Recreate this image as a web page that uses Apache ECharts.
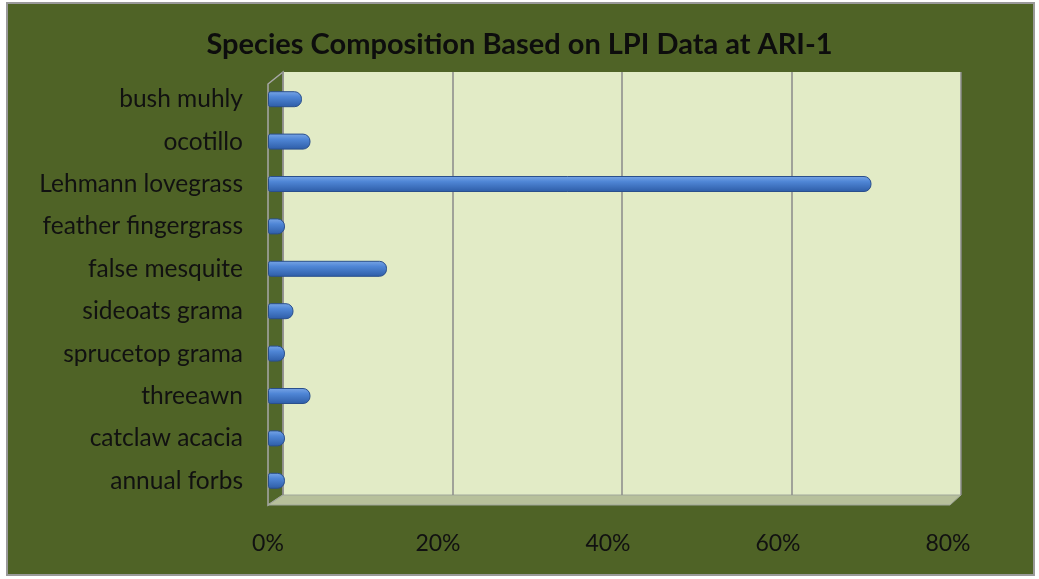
<!DOCTYPE html>
<html>
<head>
<meta charset="utf-8">
<script src="https://cdn.jsdelivr.net/npm/echarts@6/dist/echarts.min.js"></script>
<style>
html,body{margin:0;padding:0;background:#fff;}
#chart{width:1039px;height:579px;}
</style>
</head>
<body>
<div id="chart"></div>
<script>
const categories = ["bush muhly","ocotillo","Lehmann lovegrass","feather fingergrass","false mesquite","sideoats grama","sprucetop grama","threeawn","catclaw acacia","annual forbs"];
const values = [4, 5, 71, 2, 14, 3, 2, 5, 2, 2];
const tickValues = [0, 20, 40, 60, 80];
const titleText = "Species Composition Based on LPI Data at ARI-1";

const chart = echarts.init(document.getElementById('chart'), null, {renderer:'canvas'});
const FONT = 'Lato, "Open Sans", sans-serif';
const green = '#4f6326';

chart.setOption({
  backgroundColor: '#ffffff',
  animation: false,
  title: {
    text: titleText,
    left: 'center',
    top: 25,
    textStyle: {fontFamily: FONT, fontWeight: 'bold', fontSize: 29, color: '#0d0d0d'}
  },
  graphic: [
    {type:'rect', z:-10, shape:{x:7,y:3,width:1027,height:572}, style:{fill:green, stroke:'#9a9a9a', lineWidth:2}},
    {type:'polygon', z:-5, shape:{points:[[268,84],[283,72],[283,495],[268,505]]}, style:{fill:'#51672a', stroke:'#a8a8a8', lineWidth:1.5}},
    {type:'polygon', z:-5, shape:{points:[[268,505],[283,495],[961,495],[950,505]]}, style:{fill:'#b7c09b', stroke:'#a0a69a', lineWidth:1}}
  ],
  grid: [
    {left:283, top:72, width:678, height:423, show:true, backgroundColor:'#e2ebc6', borderWidth:0, z:-6},
    {left:268, right:91, top:78, bottom:77}
  ],
  xAxis: [
    {gridIndex:0, type:'value', min:0, max:80, interval:20,
     axisLabel:{show:false}, axisLine:{show:false}, axisTick:{show:false},
     splitLine:{show:true, lineStyle:{color:'#8a8a8a', width:1.5}}},
    {gridIndex:1, type:'value', min:0, max:80, interval:20,
     axisLabel:{show:true, formatter:'{value}%', fontFamily:FONT, fontSize:23, color:'#111', margin:30},
     axisLine:{show:false}, axisTick:{show:false}, splitLine:{show:false}}
  ],
  yAxis: [
    {gridIndex:0, type:'category', data:categories, inverse:true, show:false},
    {gridIndex:1, type:'category', data:categories, inverse:true,
     axisLabel:{fontFamily:FONT, fontSize:24.5, color:'#111', margin:25},
     axisLine:{show:false}, axisTick:{show:false}}
  ],
  series: [{
    type:'bar',
    xAxisIndex:1, yAxisIndex:1,
    data: values,
    barWidth: 16,
    itemStyle: {
      color: new echarts.graphic.LinearGradient(0,0,0,1,[
        {offset:0, color:'#79a6e6'},
        {offset:0.35, color:'#4f86d6'},
        {offset:1, color:'#2d5ca6'}
      ]),
      borderColor:'#2a4f8c',
      borderWidth:1,
      borderRadius:[2,7,7,2]
    }
  }]
});
</script>
</body>
</html>
